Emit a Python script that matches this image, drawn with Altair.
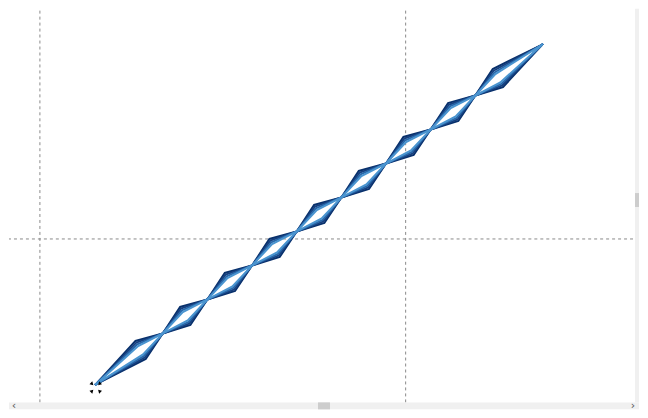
import altair as alt
import pandas as pd

# ---- chart geometry ----
W, H = 632, 402                   # whole chart (page margin 8px)
PX_X, PX_Y = 22.4, 17.05          # pixels per data unit
X_START, Y_START = 87, 377        # where the series starts inside the chart

# ---- data ----
node_t = [0, 2, 3, 4, 5, 6, 7, 8, 9, 10, 11, 12, 13, 14, 15, 16, 17, 18, 20]
node_is_vertex = [0, 1, 0, 1, 0, 1, 0, 1, 0, 1, 0, 1, 0, 1, 0, 1, 0, 1, 0]

line_names = ["1", "2", "3", "4", "5", "6", "7", "8"]
line_off_x = [-0.22, 0.24, -0.18, 0.2, -0.14, 0.16, -0.1, 0.12]
line_off_y = [0.56, -0.5, 0.46, -0.41, 0.36, -0.32, 0.26, -0.23]
line_colors = ["#08306b", "#08306b", "#163f7e", "#163f7e",
               "#2766a8", "#2766a8", "#4a94cf", "#4a94cf"]

grid_x = [-2.5, 13.88]
grid_y = [8.56]

cursor_x = [-0.18, 0.18, -0.18, 0.18]
cursor_y = [0.05, 0.05, -0.41, -0.41]
cursor_angle = [135, 225, 45, 315]

rows = []
for name, ox, oy in zip(line_names, line_off_x, line_off_y):
    for i, (t, v) in enumerate(zip(node_t, node_is_vertex)):
        rows.append({"line": name, "seq": i, "x": t + v * ox, "y": t + v * oy})
lines_df = pd.DataFrame(rows)
gx_df = pd.DataFrame({"x": grid_x})
gy_df = pd.DataFrame({"y": grid_y})
cur_df = pd.DataFrame({"x": cursor_x, "y": cursor_y, "a": cursor_angle})
one = pd.DataFrame({"k": [0]})

x0 = -X_START / PX_X
x1 = x0 + W / PX_X
y1 = Y_START / PX_Y
y0 = y1 - H / PX_Y

xs = alt.Scale(domain=[x0, x1], zero=False, nice=False)
ys = alt.Scale(domain=[y0, y1], zero=False, nice=False)

vrules = alt.Chart(gx_df).mark_rule(color="#8a8a8a", strokeDash=[3, 3], strokeWidth=1).encode(
    x=alt.X("x:Q", scale=xs, axis=None), y=alt.value(2), y2=alt.value(H)
)
hrules = alt.Chart(gy_df).mark_rule(color="#8a8a8a", strokeDash=[3, 3], strokeWidth=1).encode(
    y=alt.Y("y:Q", scale=ys, axis=None)
)
lines = alt.Chart(lines_df).mark_line(strokeWidth=2, strokeCap="round", strokeJoin="miter").encode(
    x=alt.X("x:Q", scale=xs, axis=None),
    y=alt.Y("y:Q", scale=ys, axis=None),
    color=alt.Color("line:N", scale=alt.Scale(domain=line_names, range=line_colors), legend=None),
    order=alt.Order("seq:Q"),
)
cursor = alt.Chart(cur_df).mark_point(shape="triangle", filled=True, color="black", size=16, opacity=1).encode(
    x=alt.X("x:Q", scale=xs, axis=None),
    y=alt.Y("y:Q", scale=ys, axis=None),
    angle=alt.Angle("a:Q", scale=None),
)

# scrollbar decoration of the original widget (kept inside the page)
hbar = alt.Chart(one).mark_rect(color="#f0f0f0").encode(
    x=alt.value(0), x2=alt.value(W), y=alt.value(395), y2=alt.value(H))
hthumb = alt.Chart(one).mark_rect(color="#cdcdcd").encode(
    x=alt.value(310), x2=alt.value(322), y=alt.value(395), y2=alt.value(H))
vbar = alt.Chart(one).mark_rect(color="#f0f0f0").encode(
    x=alt.value(628), x2=alt.value(W), y=alt.value(0), y2=alt.value(395))
vthumb = alt.Chart(one).mark_rect(color="#cdcdcd").encode(
    x=alt.value(628), x2=alt.value(W), y=alt.value(185), y2=alt.value(199))
arrows = alt.Chart(pd.DataFrame({"s": ["‹", "›"], "px": [5, 626]})).mark_text(
    fontSize=11, color="#555555", font="DejaVu Sans", baseline="middle"
).encode(x=alt.X("px:Q", scale=None), y=alt.value(398.5), text="s:N")

chart = alt.layer(vrules, hrules, lines, cursor, hbar, hthumb, vbar, vthumb, arrows).properties(
    width=W, height=H, padding=0, background="white"
).configure_view(stroke=None)

chart.save("out.html", embed_options={"renderer": "svg", "actions": False})
